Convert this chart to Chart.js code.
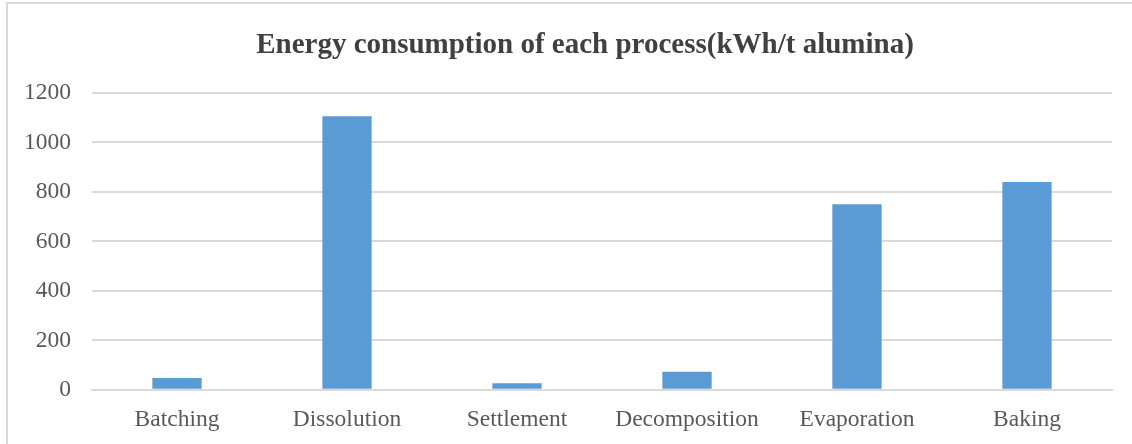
<!DOCTYPE html>
<html>
<head>
<meta charset="utf-8">
<script src="https://cdn.jsdelivr.net/npm/chart.js@4/dist/chart.umd.min.js"></script>
<style>
  html, body { margin: 0; padding: 0; background: #ffffff; }
  #wrap { position: relative; width: 1132px; height: 444px; overflow: hidden; }
  #frame { position: absolute; left: 6px; top: 2px; width: 1140px; height: 460px;
           border: 2px solid #d9d9d9; box-sizing: border-box; }
  canvas { position: absolute; left: 0; top: 0; }
</style>
</head>
<body>
<div id="wrap">
  <div id="frame"></div>
  <canvas id="c" width="1132" height="444"></canvas>
</div>
<script>
const chartTitle = 'Energy consumption of each process(kWh/t alumina)';
const categories = ['Batching', 'Dissolution', 'Settlement', 'Decomposition', 'Evaporation', 'Baking'];
const energyValues = [48, 1106, 26, 73, 750, 840];
const yTicks = [0, 200, 400, 600, 800, 1000, 1200];

const serif = '"Liberation Serif", "Times New Roman", serif';

// Title centred at a fixed horizontal position above the plot
const titlePlugin = {
  id: 'titleText',
  afterDraw(chart) {
    const ctx = chart.ctx;
    ctx.save();
    ctx.font = 'bold 29px ' + serif;
    ctx.fillStyle = '#404040';
    ctx.textAlign = 'center';
    ctx.textBaseline = 'middle';
    ctx.fillText(chartTitle, 585, 46);
    ctx.restore();
  }
};

new Chart(document.getElementById('c'), {
  type: 'bar',
  data: {
    labels: categories,
    datasets: [{
      data: energyValues,
      backgroundColor: '#5b9bd5',
      borderWidth: 0,
      categoryPercentage: 1,
      barPercentage: 0.29
    }]
  },
  options: {
    responsive: false,
    animation: false,
    layout: { padding: { top: 93, right: 20, bottom: -6, left: 3 } },
    plugins: { legend: { display: false }, tooltip: { enabled: false }, title: { display: false } },
    scales: {
      x: {
        grid: { display: false, drawTicks: false },
        border: { display: true, color: '#d9d9d9', width: 2 },
        ticks: { font: { family: serif, size: 23.5 }, color: '#595959', padding: 16, maxRotation: 0 }
      },
      y: {
        min: 0,
        max: 1200,
        afterBuildTicks(axis) { axis.ticks = yTicks.map(v => ({ value: v })); },
        grid: { color: '#d9d9d9', lineWidth: 2, drawTicks: false },
        border: { display: false },
        ticks: {
          font: { family: serif, size: 23.5 }, color: '#595959', padding: 21,
          callback: v => String(v)
        }
      }
    }
  },
  plugins: [titlePlugin]
});
</script>
</body>
</html>
